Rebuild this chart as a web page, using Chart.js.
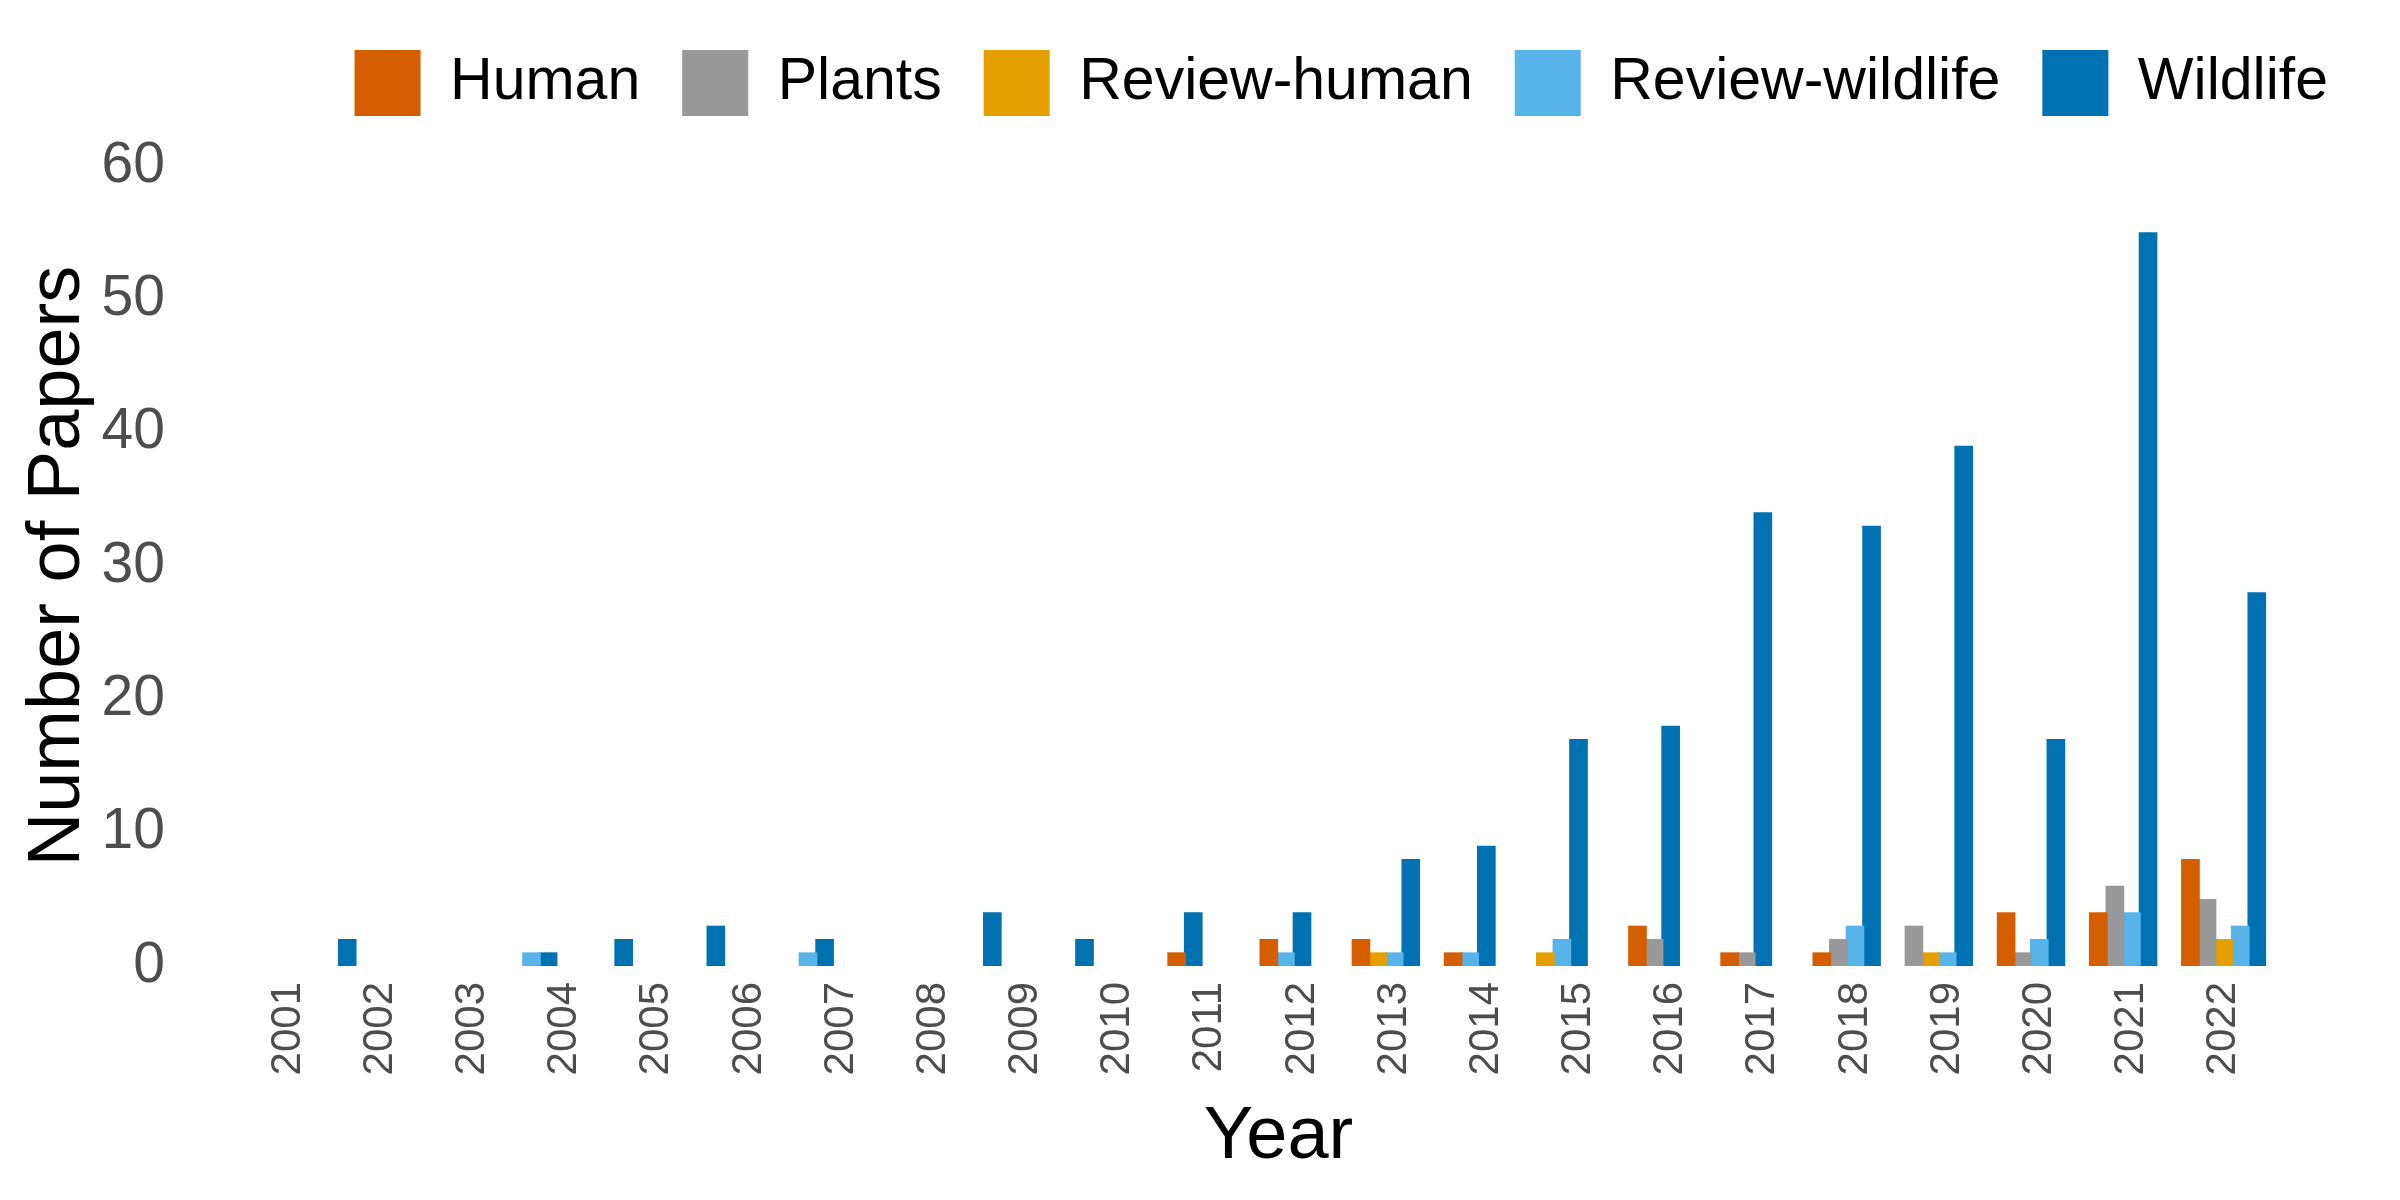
<!DOCTYPE html>
<html>
<head>
<meta charset="utf-8">
<script src="https://cdn.jsdelivr.net/npm/chart.js@4/dist/chart.umd.min.js"></script>
<style>
  html, body { margin: 0; padding: 0; background: #fff; }
  #wrap { width: 2400px; height: 1200px; }
</style>
</head>
<body>
<div id="wrap"><canvas id="myChart" width="2400" height="1200"></canvas></div>
<script>
const years = [2001, 2002, 2003, 2004, 2005, 2006, 2007, 2008, 2009, 2010, 2011,
               2012, 2013, 2014, 2015, 2016, 2017, 2018, 2019, 2020, 2021, 2022];
const seriesNames = ['Human', 'Plants', 'Review-human', 'Review-wildlife', 'Wildlife'];
const seriesColors = ['#D55E00', '#999999', '#E69F00', '#56B4E9', '#0072B2'];

const human          = [0, 0, 0, 0, 0, 0, 0, 0, 0, 0, 1, 2, 2, 1, 0, 3, 1, 1, 0, 4, 4, 8];
const plants         = [0, 0, 0, 0, 0, 0, 0, 0, 0, 0, 0, 0, 0, 0, 0, 2, 1, 2, 3, 1, 6, 5];
const reviewHuman    = [0, 0, 0, 0, 0, 0, 0, 0, 0, 0, 0, 0, 1, 0, 1, 0, 0, 0, 1, 0, 0, 2];
const reviewWildlife = [0, 0, 0, 1, 0, 0, 1, 0, 0, 0, 0, 1, 1, 1, 2, 0, 0, 3, 1, 2, 4, 3];
const wildlife       = [0, 2, 0, 1, 2, 3, 2, 0, 4, 2, 4, 4, 8, 9, 17, 18, 34, 33, 39, 17, 55, 28];
const yTicks = [0, 10, 20, 30, 40, 50, 60];

const allSeries = [human, plants, reviewHuman, reviewWildlife, wildlife];

// dodge like ggplot (preserve single): bars present in a year pack from the left
const slot = 0.18;
const datasets = seriesNames.map((name, s) => {
    const pts = [];
    years.forEach((yr, i) => {
        if (!allSeries[s][i]) return;
        let pos = 0;
        for (let k = 0; k < s; k++) if (allSeries[k][i]) pos++;
        pts.push({ x: yr - 0.45 + slot * (pos + 0.5), y: allSeries[s][i] });
    });
    return {
        label: name,
        data: pts,
        backgroundColor: seriesColors[s],
        borderWidth: 0,
        barThickness: 18,
        grouped: false
    };
});

const legendGap = {
    id: 'legendGap',
    beforeInit(chart) {
        const fit = chart.legend.fit;
        chart.legend.fit = function () {
            fit.call(this);
            this.height += 40;
        };
    }
};

new Chart(document.getElementById('myChart').getContext('2d'), {
    type: 'bar',
    data: { datasets },
    plugins: [legendGap],
    options: {
        responsive: false,
        animation: false,
        layout: { padding: { top: 8, right: 30, left: 0, bottom: 0 } },
        plugins: {
            legend: {
                position: 'top',
                align: 'end',
                labels: {
                    boxWidth: 66,
                    boxHeight: 66,
                    padding: 42,
                    color: '#000',
                    font: { family: 'Liberation Sans, Arial', size: 59 }
                }
            },
            tooltip: { enabled: false }
        },
        scales: {
            x: {
                type: 'linear',
                min: 2000.44,
                max: 2023.05,
                grid: { display: false },
                border: { display: false },
                afterBuildTicks: (scale) => { scale.ticks = years.map(v => ({ value: v })); },
                afterFit: (scale) => {
                    scale.height = 234;
                    scale.paddingLeft = 0;
                    scale.paddingRight = 0;
                },
                ticks: {
                    minRotation: 90,
                    maxRotation: 90,
                    padding: 8,
                    color: '#4d4d4d',
                    font: { family: 'Liberation Sans, Arial', size: 42 },
                    callback: (v) => String(v)
                },
                title: {
                    display: true,
                    text: 'Year',
                    color: '#000',
                    padding: { top: 0, bottom: 18 },
                    font: { family: 'Liberation Sans, Arial', size: 74 }
                }
            },
            y: {
                min: 0,
                max: 60,
                grid: { display: false },
                border: { display: false },
                afterBuildTicks: (scale) => { scale.ticks = yTicks.map(v => ({ value: v })); },
                afterFit: (scale) => { scale.width = 187; },
                ticks: {
                    padding: 14,
                    color: '#4d4d4d',
                    font: { family: 'Liberation Sans, Arial', size: 57 }
                },
                title: {
                    display: true,
                    text: 'Number of Papers',
                    color: '#000',
                    padding: { top: 14, bottom: 0 },
                    font: { family: 'Liberation Sans, Arial', size: 74 }
                }
            }
        }
    }
});
</script>
</body>
</html>
